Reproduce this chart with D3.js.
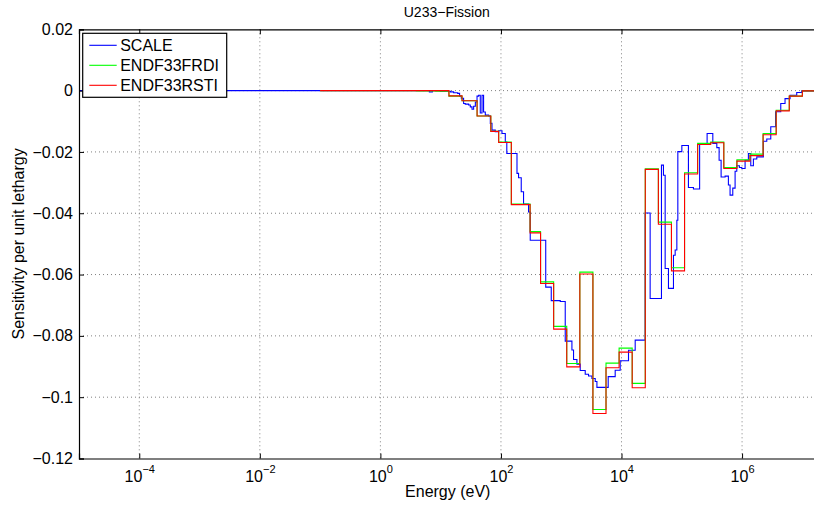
<!DOCTYPE html>
<meta charset="utf-8">
<body style="margin:0;background:#fff">
<svg width="814" height="510"></svg>
<script src="https://d3js.org/d3.v7.min.js"></script>
<script>

// U233 fission sensitivity profiles, step functions over energy groups

// 33-group boundaries (eV), ascending
var groupE = [0.1, 0.54, 4.0, 8.3153, 13.71, 22.603, 40.169, 67.904, 91.661, 148.63,
  304.33, 454.0, 748.52, 1234.1, 2034.7, 3354.6, 5530.8, 9118.8, 15034, 24788,
  40868, 67379, 111090, 183160, 301970, 497870, 820850, 1353400, 2231300, 3678800,
  6065300, 1.0e7, 1.964e7];

var frdiV = [0, 0, -0.0001, -0.0002, -0.0018, -0.0033, -0.0083, -0.0133, -0.0168, -0.0370,
  -0.0460, -0.0624, -0.0769, -0.0890, -0.0592, -0.1040, -0.0889, -0.0840, -0.0955, -0.0255,
  -0.0429, -0.0578, -0.0268, -0.0172, -0.0168, -0.0251, -0.0226, -0.0207, -0.0140, -0.0064,
  -0.0018, -0.0001];

var rstiV = [0, 0, 0, 0, -0.0017, -0.0033, -0.0083, -0.0133, -0.0169, -0.0372,
  -0.0464, -0.0629, -0.0778, -0.0901, -0.0598, -0.1053, -0.0904, -0.0853, -0.0969, -0.0257,
  -0.0436, -0.0588, -0.0272, -0.0176, -0.0170, -0.0254, -0.0230, -0.0212, -0.0144, -0.0066,
  -0.0018, -0.0001];

// SCALE fine-group profile: boundaries (eV) and values
var scaleE = [1e-5, 6.49, 7.28, 9.87, 14.5, 16.4, 19.1, 20.6, 22.0, 24.0,
  25.6, 29.1, 31.0, 33.1, 35.2, 37.6, 40.1, 42.6, 45.4, 48.5,
  51.5, 55.0, 62.4, 66.6, 71.0, 80.5, 91.4, 104, 118, 125,
  184.5, 196, 217, 237, 287, 306, 553, 683, 963, 1165,
  1504, 1600, 1820, 2065, 2500, 2837, 3228, 3661, 3908, 6012,
  7852, 9506, 13060, 16860, 24660, 29850, 46000, 49650, 52960, 60100,
  72780, 77620, 82780, 85960, 100200, 128800, 156000, 197600, 263000, 327000,
  381000, 416000, 449000, 523000, 593000, 632000, 701000, 766000, 817000, 902000,
  989000, 1.122e6, 1.273e6, 1.394e6, 1.541e6, 1.754e6, 2.255e6, 2.569e6, 2.992e6, 3.591e6,
  4.383e6, 5.161e6, 6.251e6, 8.07e6, 9.77e6, 2e7];

var scaleV = [0, -0.0004, 0, -0.0002, -0.0004, -0.0007, -0.0009, -0.0018, -0.0025, -0.0042,
  -0.0044, -0.0047, -0.0053, -0.0061, -0.0051, -0.0037, -0.0018, -0.0015, -0.0073, -0.0015,
  -0.0070, -0.0080, -0.0083, -0.0107, -0.0129, -0.0134, -0.0131, -0.0140, -0.0168, -0.0205,
  -0.0270, -0.0284, -0.0330, -0.0370, -0.0396, -0.0488, -0.0641, -0.0685, -0.0688, -0.0817,
  -0.0846, -0.0877, -0.0892, -0.0913, -0.0925, -0.0931, -0.0939, -0.0949, -0.0968, -0.0933,
  -0.0912, -0.0881, -0.0847, -0.0814, -0.0399, -0.0678, -0.0243, -0.0276, -0.0580, -0.0645,
  -0.0537, -0.0520, -0.0423, -0.0199, -0.0179, -0.0316, -0.0321, -0.0175, -0.0140, -0.0172,
  -0.0186, -0.0227, -0.0282, -0.0279, -0.0308, -0.0341, -0.0318, -0.0263, -0.0245, -0.0251,
  -0.0254, -0.0227, -0.0205, -0.0245, -0.0223, -0.0216, -0.0165, -0.0158, -0.0118, -0.0069,
  -0.0042, -0.0026, -0.0015, -0.0006, -0.0001];

var xTicks = [1e-4, 1e-2, 1, 1e2, 1e4, 1e6];
var yTicks = [-0.12, -0.1, -0.08, -0.06, -0.04, -0.02, 0, 0.02];

var series = [
  {name: "SCALE", E: scaleE, V: scaleV, color: "#0000ff"},
  {name: "ENDF33FRDI", E: groupE, V: frdiV, color: "#00ff00"},
  {name: "ENDF33RSTI", E: groupE, V: rstiV, color: "#ff0000"}
];

var font = "'Liberation Sans', Arial, Helvetica, sans-serif";
var svg = d3.select("svg"),
    margin = {left: 79, top: 29.3},
    width = 741.5,
    height = 429.2,
    g = svg.append("g").attr("transform", "translate(" + margin.left + "," + margin.top + ")");

var x = d3.scaleLog().domain([1e-5, 2e7]).range([0, width]);
var y = d3.scaleLinear().domain([-0.12, 0.02]).range([height, 0]);

function fmt(v) {
  return v === 0 ? "0" : (v < 0 ? "\u2212" : "") + d3.format(".2~f")(Math.abs(v));
}

// grid
g.append("g").selectAll("line").data(xTicks).join("line")
    .attr("x1", d => x(d)).attr("x2", d => x(d))
    .attr("y1", 0).attr("y2", height)
    .attr("stroke", "#808080").attr("stroke-dasharray", "1,3");
g.append("g").selectAll("line").data(yTicks.slice(1, -1)).join("line")
    .attr("x1", 0).attr("x2", width)
    .attr("y1", d => y(d)).attr("y2", d => y(d))
    .attr("stroke", "#808080").attr("stroke-dasharray", "1,3");

// curves
svg.append("clipPath").attr("id", "clip").append("rect")
    .attr("width", width).attr("height", height);

var line = d3.line()
    .x(d => x(d[0]))
    .y(d => y(d[1]))
    .curve(d3.curveStepAfter);

series.forEach(function(s) {
  var pts = s.E.map(function(e, i) { return [e, s.V[Math.min(i, s.V.length - 1)]]; });
  g.append("path")
      .datum(pts)
      .attr("clip-path", "url(#clip)")
      .attr("fill", "none")
      .attr("stroke", s.color)
      .attr("stroke-width", 1.1)
      .attr("d", line);
});

// axes
var yAxis = g.append("g")
    .call(d3.axisLeft(y).tickValues(yTicks).tickSize(-5).tickPadding(6).tickFormat(fmt));
g.append("g")
    .attr("transform", "translate(" + width + ",0)")
    .call(d3.axisRight(y).tickValues(yTicks).tickSize(-5).tickFormat(""));
var xAxis = g.append("g")
    .attr("transform", "translate(0," + height + ")")
    .call(d3.axisBottom(x).tickValues(xTicks).tickSize(-5).tickPadding(8).tickFormat(""));
g.append("g")
    .call(d3.axisTop(x).tickValues(xTicks).tickSize(-5).tickFormat(""));

g.selectAll(".domain").attr("stroke", "#000").attr("stroke-width", 1.2);
g.selectAll(".tick line").attr("stroke", "#000");
yAxis.selectAll("text").attr("font-family", font).attr("font-size", 16).attr("fill", "#000");

xAxis.selectAll(".tick").each(function(d) {
  var t = d3.select(this).append("text")
      .attr("y", 23)
      .attr("text-anchor", "middle")
      .attr("font-family", font)
      .attr("font-size", 16)
      .attr("fill", "#000");
  var p = Math.round(Math.log10(d));
  t.append("tspan").text("10");
  t.append("tspan").attr("dy", -9).attr("font-size", 11)
      .text((p < 0 ? "\u2212" : "") + Math.abs(p));
});

// labels
svg.append("text")
    .attr("x", margin.left + width / 2 - 3).attr("y", 17)
    .attr("text-anchor", "middle")
    .attr("font-family", font).attr("font-size", 14)
    .text("U233\u2212Fission");
svg.append("text")
    .attr("x", margin.left + width / 2 - 2).attr("y", 497)
    .attr("text-anchor", "middle")
    .attr("font-family", font).attr("font-size", 16)
    .text("Energy (eV)");
svg.append("text")
    .attr("transform", "translate(24," + (margin.top + height / 2) + ") rotate(-90)")
    .attr("text-anchor", "middle")
    .attr("font-family", font).attr("font-size", 16)
    .text("Sensitivity per unit lethargy");

// legend
var legend = svg.append("g").attr("transform", "translate(82.7,33.3)");
legend.append("rect")
    .attr("width", 144).attr("height", 64)
    .attr("fill", "#fff").attr("stroke", "#000").attr("stroke-width", 1.2);
series.forEach(function(s, i) {
  var ly = 12 + i * 20;
  legend.append("line")
      .attr("x1", 6.6).attr("x2", 34).attr("y1", ly).attr("y2", ly)
      .attr("stroke", s.color).attr("stroke-width", 1.1);
  legend.append("text")
      .attr("x", 37.5).attr("y", ly + 6)
      .attr("font-family", font).attr("font-size", 16)
      .text(s.name);
});

</script>
